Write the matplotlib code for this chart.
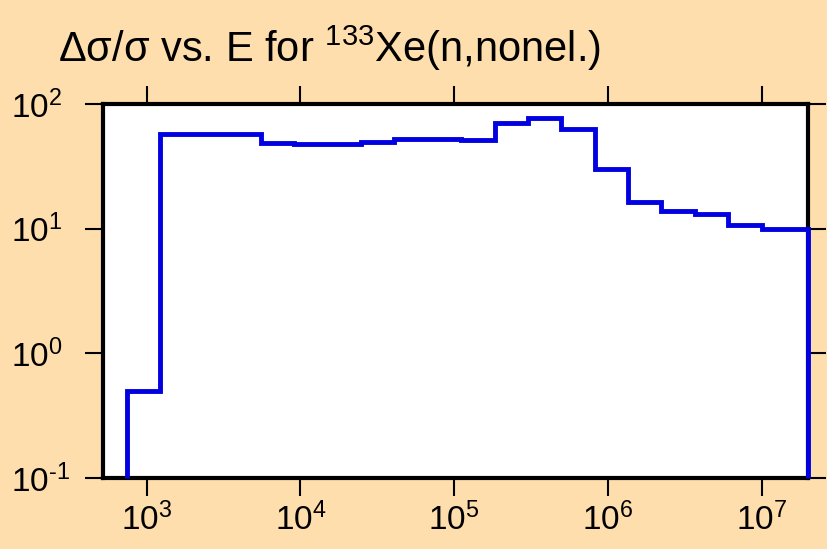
import numpy as np
import matplotlib
matplotlib.use("Agg")
import matplotlib.pyplot as plt

plt.rcParams['font.family'] = ['Liberation Sans', 'DejaVu Sans']
plt.rcParams['mathtext.fontset'] = 'custom'
plt.rcParams['mathtext.rm'] = 'Liberation Sans'
plt.rcParams['mathtext.it'] = 'Liberation Sans'

# bin edges (eV) and relative uncertainty (%)
edges = [750, 1230, 2030, 3350, 5530, 9120, 1.50e4, 2.48e4, 4.09e4, 6.74e4,
         1.11e5, 1.83e5, 3.02e5, 4.98e5, 8.21e5, 1.35e6, 2.23e6, 3.68e6,
         6.07e6, 1.0e7, 2.0e7]
values = [0.5, 57, 57, 57, 48.8, 47.7, 47.5, 49.5, 52, 52,
          51.5, 70, 77, 63, 30.3, 16.3, 13.8, 13.2, 10.7, 9.9]

xticks = [1e3, 1e4, 1e5, 1e6, 1e7]
xlabels = ['$\\mathregular{10^{3}}$', '$\\mathregular{10^{4}}$', '$\\mathregular{10^{5}}$',
           '$\\mathregular{10^{6}}$', '$\\mathregular{10^{7}}$']
yticks = [0.1, 1, 10, 100]
ylabels = ['$\\mathregular{10^{\u2010 1}}$', '$\\mathregular{10^{0}}$',
           '$\\mathregular{10^{1}}$', '$\\mathregular{10^{2}}$']

bg = '#FFDEAD'
fig = plt.figure(figsize=(8.27, 5.49), dpi=100, facecolor=bg)
ax = fig.add_axes([0.1245, 0.1293, 0.8525, 0.6813])
ax.set_facecolor('white')

st = ax.stairs(values, edges, baseline=0.1, color='#0000e0', linewidth=3.5,
               zorder=3, clip_on=False)
st.set_joinstyle('miter')

ax.set_xscale('log')
ax.set_yscale('log')
ax.set_xlim(520, 2.0e7)
ax.set_ylim(0.1, 100)

ax.set_xticks(xticks)
ax.set_xticklabels(xlabels, fontsize=24)
ax.set_yticks(yticks)
ax.set_yticklabels(ylabels, fontsize=24)
ax.minorticks_off()

ax.tick_params(axis='both', direction='out', length=13, width=1.5, color='black',
               top=True, right=True)
ax.tick_params(axis='x', pad=5)
ax.tick_params(axis='y', pad=53)
for lab in ax.get_yticklabels():
    lab.set_horizontalalignment('left')

for s in ax.spines.values():
    s.set_linewidth(3.0)
    s.set_color('black')

fig.text(0.070, 0.887, '\u0394\u03c3/\u03c3 vs. E for $\\mathregular{^{133}}$Xe(n,nonel.)',
         fontsize=30, ha='left', va='baseline')

fig.savefig('out.png', dpi=100, facecolor=bg)
